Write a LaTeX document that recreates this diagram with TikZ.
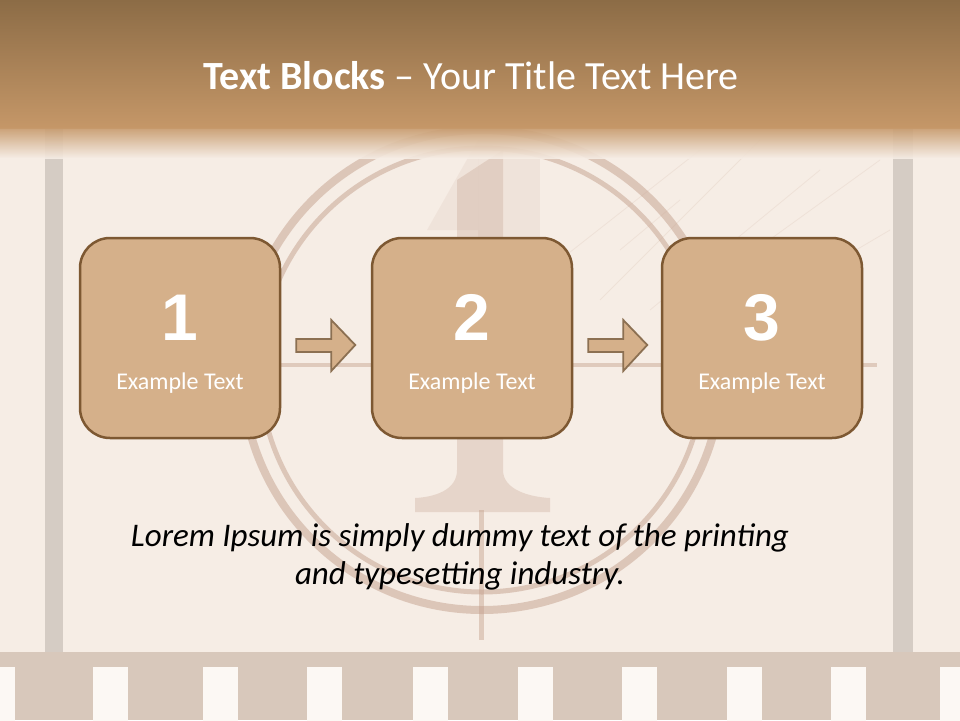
\documentclass[tikz,border=0pt]{standalone}
\usepackage{fontspec}
\setmainfont{Carlito}
\newfontfamily\numfont{Liberation Sans}
\usetikzlibrary{calc}
\definecolor{boxfill}{RGB}{213,176,138}
\definecolor{boxline}{RGB}{125,88,50}
\definecolor{arrline}{RGB}{140,112,82}
\definecolor{cream}{RGB}{246,237,229}
\definecolor{headtop}{RGB}{140,108,70}
\definecolor{headbot}{RGB}{197,151,104}
\definecolor{ringcol}{RGB}{196,160,140}
\definecolor{filmgray}{RGB}{200,190,182}
\definecolor{bandcol}{RGB}{216,200,187}
\definecolor{holecol}{RGB}{252,248,244}
\begin{document}
\begin{tikzpicture}[x=1pt,y=-1pt,
  stepbox/.style={draw=boxline,line width=2.5pt,fill=boxfill,rounded corners=30pt,
    minimum width=200pt,minimum height=200pt,inner sep=0pt},
  numtext/.style={text=white,font=\numfont\bfseries\fontsize{66}{66}\selectfont,anchor=base},
  lbltext/.style={text=white,font=\fontsize{24}{28}\selectfont,anchor=base},
  blockarrow/.style={draw=arrline,line width=1.8pt,fill=boxfill,line join=miter},
  ring/.style={draw=ringcol,opacity=0.5},
  bgline/.style={draw=ringcol,opacity=0.45,line width=4pt}]
\useasboundingbox (0,0) rectangle (960,720);
% background
\fill[cream] (0,0) rectangle (960,720);
% texture hints
\foreach \a/\b/\c/\d in {600/300/760/140,650/310/820/170,700/290/880/160,560/260/700/150,720/330/890/230,620/250/680/200}
  \draw[ringcol,opacity=0.15,line width=0.8pt] (\a,\b) -- (\c,\d);
% film side bars
\fill[filmgray,opacity=0.7] (45,128) rectangle (63,652);
\fill[filmgray,opacity=0.7] (893,128) rectangle (913,652);
% countdown rings
\draw[ring,line width=8pt] (482,370) circle (240);
\draw[ring,line width=5pt] (482,370) circle (222);
% cross lines
\draw[bgline] (280,365) -- (877,365);
\draw[bgline,line width=5pt] (481,510) -- (481,640);
% faint big "1"
\fill[ringcol,opacity=0.3] (457,180) -- (503,150) -- (503,470)
  .. controls (503,490) and (530,497) .. (550,498) -- (550,512) -- (415,512) -- (415,498)
  .. controls (435,497) and (457,490) .. (457,470) -- cycle;
\fill[ringcol,opacity=0.12] (478,140) -- (540,140) -- (540,240) -- (478,240) -- cycle;
\fill[ringcol,opacity=0.12] (478,140) -- (427,230) -- (478,230) -- cycle;
% bottom film band
\fill[bandcol] (0,652) rectangle (960,720);
\foreach \x in {-20,93,203,307,413,518,622,727,831,940}
  \fill[holecol] (\x,667) rectangle ++(35,60);
% header
\shade[top color=headtop,bottom color=headbot] (0,0) rectangle (960,128);
\shade[top color=headbot,bottom color=cream,opacity=0.9] (0,127) rectangle (960,158);
\node[text=white,font=\fontsize{40}{48}\selectfont,anchor=base] (title) at (471,89)
  {\textbf{Text Blocks} – Your Title Text Here};
% boxes
\node[stepbox] (b1) at (180,338) {};
\node[stepbox] (b2) at (472,338) {};
\node[stepbox] (b3) at (762,338) {};
\node[numtext] (n1) at (180,340) {1};
\node[numtext] (n2) at (472,340) {2};
\node[numtext] (n3) at (762,340) {3};
\node[lbltext] (t1) at (180,389) {Example Text};
\node[lbltext] (t2) at (472,389) {Example Text};
\node[lbltext] (t3) at (762,389) {Example Text};
% block arrows
\foreach \s/\t in {b1/b2,b2/b3}
  \draw[blockarrow] ($(\s.east)+(15,1)$) -- ++(35,0) -- ++(0,-19) -- ++(24,25)
    -- ++(-24,26) -- ++(0,-19) -- ++(-35,0) -- cycle;
% lorem
\node[font=\itshape\fontsize{33}{38}\selectfont,align=center,text=black] (lorem) at (460,557)
  {Lorem Ipsum is simply dummy text of the printing\\and typesetting industry.};
\end{tikzpicture}
\end{document}
